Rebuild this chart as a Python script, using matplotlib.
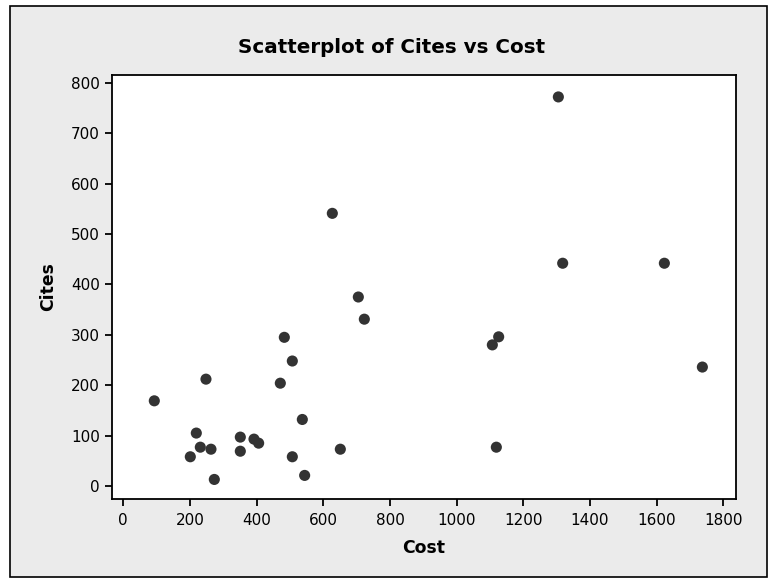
import matplotlib
matplotlib.use("Agg")
import matplotlib.pyplot as plt
from matplotlib.patches import Rectangle

# ---- data ----
cost = [93, 627, 248, 219, 201, 231, 263, 273, 351, 351, 392, 406, 483, 507,
        471, 537, 507, 544, 651, 1318, 1623, 705, 723, 1126, 1107, 1737, 1119, 1305]
cites = [169, 541, 212, 105, 58, 77, 73, 13, 97, 69, 93, 85, 295, 248,
         204, 132, 58, 21, 73, 442, 442, 375, 331, 296, 280, 236, 77, 772]
x_ticks = [0, 200, 400, 600, 800, 1000, 1200, 1400, 1600, 1800]
y_ticks = [0, 100, 200, 300, 400, 500, 600, 700, 800]
title = "Scatterplot of Cites vs Cost"
x_label = "Cost"
y_label = "Cites"

W, H = 770, 579
plt.rcParams['font.family'] = ['DejaVu Sans']
fig = plt.figure(figsize=(W / 100, H / 100), dpi=100, facecolor="white")

def fx(px):
    return px / W

def fy(py):
    return 1 - py / H

# grey panel with black frame
fig.patches.append(Rectangle((fx(10), fy(577)), fx(767) - fx(10), fy(6) - fy(577),
                             transform=fig.transFigure, facecolor="#ebebeb",
                             edgecolor="black", linewidth=1.2, zorder=-5))

left, right, top, bottom = 111.7, 735.7, 74.5, 499.3
ax = fig.add_axes([fx(left), fy(bottom), fx(right) - fx(left), fy(top) - fy(bottom)])
ax.set_zorder(2)
ax.set_facecolor("white")
ax.scatter(cost, cites, s=64, color="#333333", edgecolors="none", zorder=3)

ax.set_xlim(-34.8, 1837)
ax.set_ylim(-26.4, 816.5)
ax.set_xticks(x_ticks)
ax.set_yticks(y_ticks)
ax.set_xticklabels([str(v) for v in x_ticks])
ax.set_yticklabels([str(v) for v in y_ticks])
for sp in ax.spines.values():
    sp.set_linewidth(1.3)
    sp.set_color("black")
ax.tick_params(axis="both", which="major", direction="out", length=5, width=1.3,
               labelsize=11, colors="black")
ax.tick_params(axis="x", pad=4.6)
ax.tick_params(axis="y", pad=3.4)
ax.tick_params(top=False, right=False)

fig.text(fx(392), fy(53), title, ha="center", va="baseline",
         fontsize=14.3, fontweight="bold", zorder=5)
fig.text(fx(423.5), fy(553), x_label, ha="center", va="baseline",
         fontsize=12.4, fontweight="bold", zorder=5)
fig.text(fx(53), fy(287), y_label, ha="center", va="baseline", rotation=90,
         rotation_mode="anchor", fontsize=12.4, fontweight="bold", zorder=5)

fig.savefig("out.png", dpi=100, facecolor="white")
